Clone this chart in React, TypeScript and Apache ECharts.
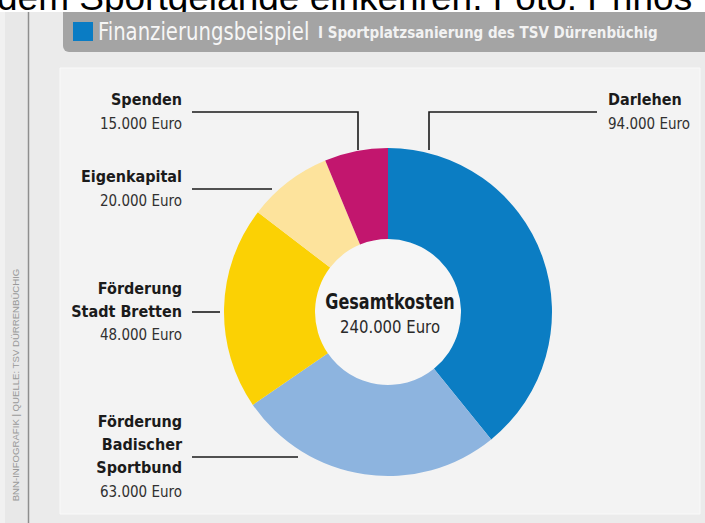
import React, { useEffect, useRef } from 'react';
import * as echarts from 'echarts';

// ---- data ----
const categories = ['Darlehen', 'Förderung\nBadischer\nSportbund', 'Förderung\nStadt Bretten', 'Eigenkapital', 'Spenden'];
const values = [94000, 63000, 48000, 20000, 15000];
const sliceColors = ['#0b7dc3', '#8db4df', '#fbd104', '#fde39c', '#c2166e'];
const unit = 'Euro';
const centerTitle = 'Gesamtkosten';
const headline = 'Finanzierungsbeispiel';
const subline = 'I Sportplatzsanierung des TSV Dürrenbüchig';
const sourceNote = 'BNN-INFOGRAFIK | QUELLE: TSV DÜRRENBÜCHIG';
const captionAbove = 'dem Sportgelände einkehren. Foto: Prinos';

// ---- layout ----
const CX = 388;
const CY = 312;
const R_IN = 73;
const R_OUT = 164;
const LEFT_X = 182;
const RIGHT_X = 608;
const labelSpots = [
  { x: RIGHT_X, y: 112, align: 'left', line: [[597, 112], [429, 112], [429, 150]] },
  { x: LEFT_X, y: 457, align: 'right', line: [[192, 457], [298, 457]] },
  { x: LEFT_X, y: 312, align: 'right', line: [[192, 312], [220, 312]] },
  { x: LEFT_X, y: 189, align: 'right', line: [[192, 189], [272, 189]] },
  { x: LEFT_X, y: 112, align: 'right', line: [[192, 112], [358, 112], [358, 150]] },
];

const NARROW = "'DejaVu Sans Condensed', 'Liberation Sans Narrow', sans-serif";

function fmt(v: number): string {
  return String(v).replace(/\B(?=(\d{3})+(?!\d))/g, '.') + ' ' + unit;
}

export default function App() {
  const ref = useRef<HTMLDivElement>(null);
  useEffect(() => {
    if (!ref.current) return;
    const chart = echarts.init(ref.current, null, { renderer: 'svg' });
    const total = values.reduce((a, b) => a + b, 0);
    const option: any = {
      animation: false,
      backgroundColor: '#ffffff',
      graphic: {
        elements: [
          {
            type: 'text', x: -3, y: -3, z: -5,
            style: { text: captionAbove, fill: '#000', font: "37px 'Liberation Sans', Arial, sans-serif", align: 'left', verticalAlign: 'middle' },
          },
          { type: 'rect', z: -4, shape: { x: 0, y: 12, width: 705, height: 511 }, style: { fill: '#ebebeb' } },
          { type: 'rect', z: -3, shape: { x: 0, y: 12, width: 28, height: 511 }, style: { fill: '#e8e8e8' } },
          { type: 'rect', z: -3, shape: { x: 0, y: 12, width: 5, height: 511 }, style: { fill: '#f1f1f1' } },
          { type: 'line', z: -3, shape: { x1: 28.5, y1: 12, x2: 28.5, y2: 523 }, style: { stroke: '#8e8e8e', lineWidth: 1.5 } },
          { type: 'rect', z: -3, shape: { x: 63, y: 12, width: 650, height: 40, r: [0, 0, 0, 6] }, style: { fill: '#a4a4a4' } },
          { type: 'rect', z: -2, shape: { x: 73, y: 22, width: 20, height: 19 }, style: { fill: '#0a7cc4' } },
          {
            type: 'text', x: 98, y: 32, z: -2, scaleX: 0.91,
            style: { text: headline, fill: '#f6f6f6', font: `24px ${NARROW}`, align: 'left', verticalAlign: 'middle' },
          },
          {
            type: 'text', x: 318, y: 33, z: -2,
            style: { text: subline, fill: '#f2f2f2', font: `bold 15px ${NARROW}`, align: 'left', verticalAlign: 'middle' },
          },
          { type: 'rect', z: -3, shape: { x: 60, y: 68, width: 640, height: 446 }, style: { fill: '#f3f3f3', stroke: '#f9f9f9', lineWidth: 1 } },
          {
            type: 'text', x: 15, y: 385, z: -2, rotation: Math.PI / 2,
            style: { text: sourceNote, fill: '#999999', font: "9.6px 'Liberation Sans', Arial, sans-serif", align: 'center', verticalAlign: 'middle' },
          },
          { type: 'circle', z: -2, shape: { cx: CX, cy: CY, r: R_IN }, style: { fill: '#f6f6f6' } },
          {
            type: 'text', x: CX + 2, y: CY - 10, z: 5, scaleX: 0.85,
            style: { text: centerTitle, fill: '#1a1a1a', font: `bold 21px ${NARROW}`, align: 'center', verticalAlign: 'middle' },
          },
          {
            type: 'text', x: CX + 2, y: CY + 15, z: 5, scaleX: 0.92,
            style: { text: fmt(total), fill: '#2a2a2a', font: `18px ${NARROW}`, align: 'center', verticalAlign: 'middle' },
          },
        ],
      },
      series: [
        {
          type: 'pie',
          center: [CX, CY],
          radius: [R_IN, R_OUT],
          startAngle: 90,
          clockwise: true,
          avoidLabelOverlap: false,
          silent: true,
          emphasis: { disabled: true },
          data: categories.map((name, i) => ({ name, value: values[i], itemStyle: { color: sliceColors[i] } })),
          label: {
            show: true,
            position: 'outside',
            formatter: (p: any) =>
              String(p.name).split('\n').map((l: string) => `{b|${l}}`).join('\n') + `\n{v|${fmt(p.value)}}`,
            rich: {
              b: { fontFamily: NARROW, fontWeight: 'bold', fontSize: 16, color: '#1b1b1b', lineHeight: 23 },
              v: { fontFamily: NARROW, fontWeight: 'normal', fontSize: 15, color: '#303030', lineHeight: 25 },
            },
          },
          labelLine: { show: true, length: 10, length2: 10, smooth: false, lineStyle: { color: '#1a1a1a', width: 1.6 } },
          labelLayout: (params: any) => {
            const s = labelSpots[params.dataIndex];
            return { x: s.x, y: s.y, align: s.align, verticalAlign: 'middle', labelLinePoints: s.line };
          },
        },
      ],
    };
    chart.setOption(option);
    return () => chart.dispose();
  }, []);
  return <div ref={ref} style={{ position: 'fixed', left: 0, top: 0, width: 705, height: 523 }} />;
}
